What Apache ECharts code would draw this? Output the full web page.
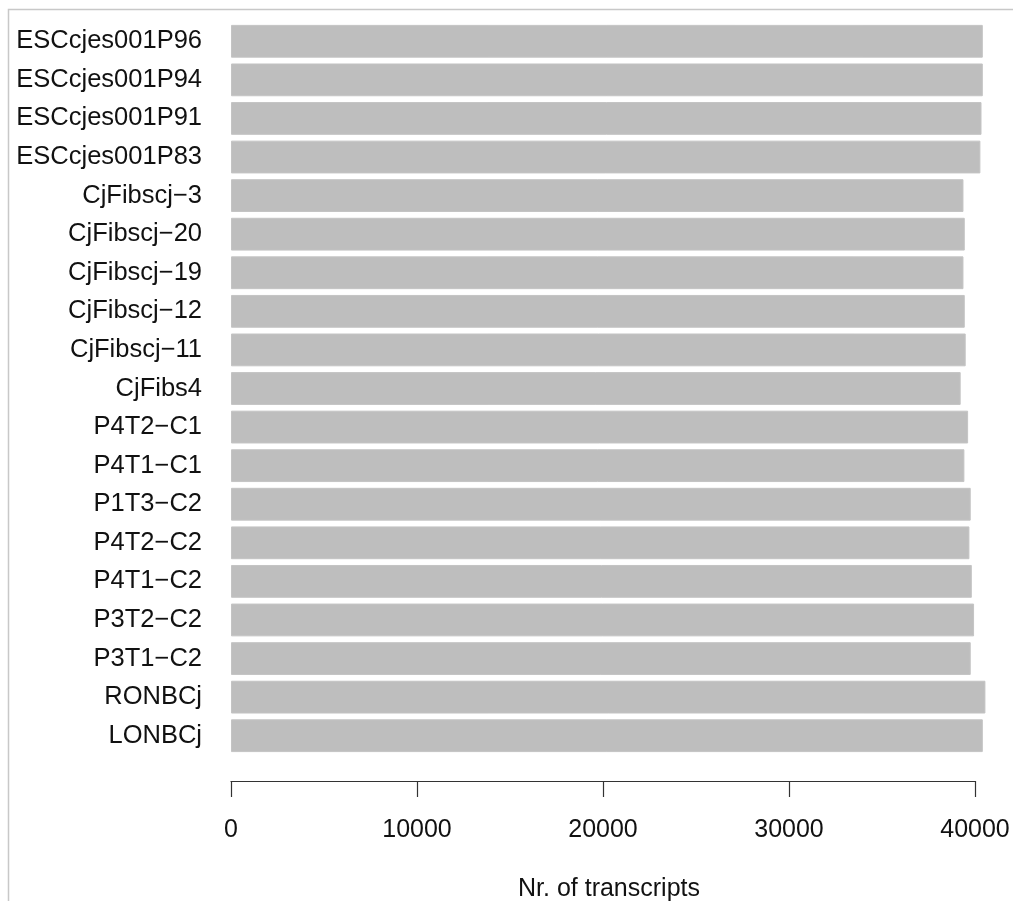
<!DOCTYPE html>
<html>
<head>
<meta charset="utf-8">
<script src="https://cdn.jsdelivr.net/npm/echarts@6/dist/echarts.min.js"></script>
<style>
  html, body { margin: 0; padding: 0; background: #fff; }
  #main { width: 1013px; height: 901px; }
</style>
</head>
<body>
<div id="main"></div>
<script>
// samples, bottom bar first (same order as the R barplot)
var samples = ['LONBCj', 'RONBCj', 'P3T1\u2212C2', 'P3T2\u2212C2', 'P4T1\u2212C2', 'P4T2\u2212C2',
  'P1T3\u2212C2', 'P4T1\u2212C1', 'P4T2\u2212C1', 'CjFibs4', 'CjFibscj\u221211', 'CjFibscj\u221212',
  'CjFibscj\u221219', 'CjFibscj\u221220', 'CjFibscj\u22123', 'ESCcjes001P83', 'ESCcjes001P91',
  'ESCcjes001P94', 'ESCcjes001P96'];
var transcripts = [40420, 40560, 39770, 39950, 39830, 39700, 39770, 39430, 39630, 39230,
  39500, 39450, 39380, 39450, 39380, 40290, 40350, 40420, 40420];
var xTicks = [0, 10000, 20000, 30000, 40000];

var myChart = echarts.init(document.getElementById('main'));
var font = 'Liberation Sans, Arial, sans-serif';

var option = {
  backgroundColor: '#fff',
  animation: false,
  graphic: [{
    // thin frame left/top like in the exported picture
    type: 'polyline',
    shape: { points: [[8.5, 901], [8.5, 9.5], [1013, 9.5]] },
    style: { stroke: '#c8c8c8', lineWidth: 1.5, fill: null }
  }],
  grid: { left: 231, right: 38, top: 22, bottom: 146, outerBoundsMode: 'none', containLabel: false },
  xAxis: {
    type: 'value',
    min: xTicks[0],
    max: xTicks[xTicks.length - 1],
    interval: 10000,
    offset: 26,
    splitLine: { show: false },
    axisLine: { show: true, lineStyle: { color: '#333', width: 1.2 } },
    axisTick: { show: true, length: 16, lineStyle: { color: '#333', width: 1.2 } },
    axisLabel: {
      margin: 37, fontSize: 25, color: '#111', fontFamily: font,
      formatter: function(v) { return String(v); }
    },
    name: 'Nr. of transcripts',
    nameLocation: 'middle',
    nameGap: 96,
    nameTextStyle: { fontSize: 25, color: '#111', fontFamily: font, padding: [0, 0, 0, 12] }
  },
  yAxis: {
    type: 'category',
    data: samples,
    axisLine: { show: false },
    axisTick: { show: false },
    axisLabel: { margin: 29, fontSize: 25.5, color: '#111', fontFamily: font, padding: [3, 0, 0, 0] }
  },
  series: [{
    name: 'transcripts',
    type: 'bar',
    data: transcripts,
    clip: false,
    barCategoryGap: '15%',
    itemStyle: { color: '#bebebe', borderColor: '#c4c4c4', borderWidth: 1 }
  }]
};

myChart.setOption(option);
</script>
</body>
</html>
